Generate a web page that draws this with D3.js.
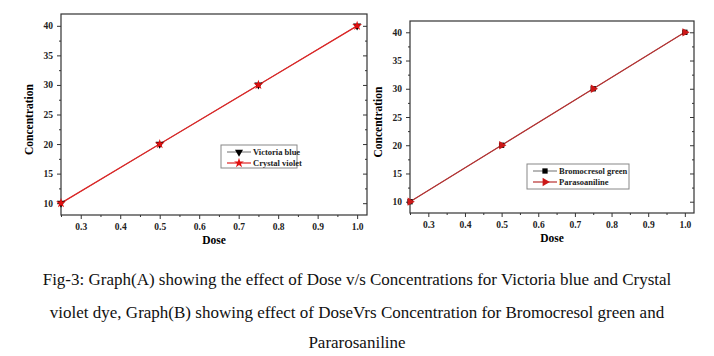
<!DOCTYPE html>
<html><head><meta charset="utf-8">
<script src="https://cdn.jsdelivr.net/npm/d3@7/dist/d3.min.js"></script>
<style>body{margin:0;background:#fff}svg{display:block}</style>
</head><body>
<svg id="c" width="714" height="356"></svg>
<script>
const dose = [0.25, 0.5, 0.75, 1.0];
const victoriaBlue = [10, 20, 30, 40];
const crystalViolet = [10, 20, 30, 40];
const bromocresolGreen = [10, 20, 30, 40];
const pararosaniline = [10, 20, 30, 40];
const xTicks = [0.3, 0.4, 0.5, 0.6, 0.7, 0.8, 0.9, 1.0];
const yTicks = [10, 15, 20, 25, 30, 35, 40];
const captionLines = [
  "Fig-3: Graph(A) showing the effect of Dose v/s Concentrations for Victoria blue and Crystal",
  "violet dye, Graph(B) showing effect of DoseVrs Concentration for Bromocresol green and",
  "Pararosaniline"
];

const svg = d3.select("#c");
const serif = "'Liberation Serif','Times New Roman',serif";

function panel(cfg) {
  const x = d3.scaleLinear().domain([0.25, 1.025]).range([cfg.left, cfg.right]);
  const y = d3.scaleLinear().domain([8, 42]).range([cfg.bottom, cfg.top]);
  const g = svg.append("g");
  // frame
  g.append("rect").attr("x", cfg.left).attr("y", cfg.top)
    .attr("width", cfg.right - cfg.left).attr("height", cfg.bottom - cfg.top)
    .attr("fill", "none").attr("stroke", "#333").attr("stroke-width", 1.2);
  const minorX = d3.range(0.25, 1.03, 0.05).map(v => +v.toFixed(2)).filter(v => !xTicks.some(t => Math.abs(t - v) < 1e-6));
  const minorY = d3.range(7.5, 42, 2.5).filter(v => v >= 8 && !yTicks.includes(v));
  // bottom axis
  const bx = g.append("g").attr("transform", `translate(0,${cfg.bottom})`)
    .call(d3.axisBottom(x).tickValues(xTicks).tickFormat(d3.format(".1f")).tickSize(4).tickPadding(4));
  bx.select(".domain").remove();
  g.append("g").attr("transform", `translate(0,${cfg.bottom})`)
    .call(d3.axisBottom(x).tickValues(minorX).tickFormat("").tickSize(2))
    .select(".domain").remove();
  // left axis
  const ly = g.append("g").attr("transform", `translate(${cfg.left},0)`)
    .call(d3.axisLeft(y).tickValues(yTicks).tickSize(4).tickPadding(4));
  ly.select(".domain").remove();
  g.append("g").attr("transform", `translate(${cfg.left},0)`)
    .call(d3.axisLeft(y).tickValues(minorY).tickFormat("").tickSize(2))
    .select(".domain").remove();
  // right mirrored ticks (inward)
  g.append("g").attr("transform", `translate(${cfg.right},0)`)
    .call(d3.axisLeft(y).tickValues(yTicks).tickFormat("").tickSize(4))
    .select(".domain").remove();
  g.append("g").attr("transform", `translate(${cfg.right},0)`)
    .call(d3.axisLeft(y).tickValues(minorY).tickFormat("").tickSize(2))
    .select(".domain").remove();
  g.selectAll(".tick line").attr("stroke", "#333");
  g.selectAll(".tick text").attr("font-family", serif).attr("font-weight", "bold")
    .attr("font-size", "9.5px").attr("fill", "#222");
  // axis titles
  g.append("text").attr("x", (cfg.left + cfg.right) / 2).attr("y", cfg.bottom + 29)
    .attr("text-anchor", "middle").attr("font-family", serif).attr("font-weight", "bold")
    .attr("font-size", "11.5px").text("Dose");
  g.append("text").attr("transform", `translate(${cfg.left - 28},${(cfg.top + cfg.bottom) / 2 + 5}) rotate(-90)`)
    .attr("text-anchor", "middle").attr("font-family", serif).attr("font-weight", "bold")
    .attr("font-size", "11.5px").text("Concentration");
  // series
  const line = d3.line().x(d => x(d[0])).y(d => y(d[1]));
  const s1 = dose.map((d, i) => [d, cfg.s1[i]]);
  const s2 = dose.map((d, i) => [d, cfg.s2[i]]);
  g.append("path").datum(s1).attr("d", line).attr("fill", "none").attr("stroke", "#888").attr("stroke-width", 1);
  g.append("path").datum(s2).attr("d", line).attr("fill", "none").attr("stroke", cfg.color).attr("stroke-width", 1.3);
  const sym1 = d3.symbol().type(cfg.sym1).size(28);
  const sym2 = d3.symbol().type(cfg.sym2).size(30);
  g.selectAll(".m1").data(s1).join("path").attr("d", sym1)
    .attr("transform", d => `translate(${x(d[0])},${y(d[1])})${cfg.rot1}`).attr("fill", "#000");
  g.selectAll(".m2").data(s2).join("path").attr("d", sym2)
    .attr("transform", d => `translate(${x(d[0])},${y(d[1])})${cfg.rot2}`).attr("fill", cfg.markColor);
  // legend
  const L = cfg.legend;
  const lg = g.append("g");
  lg.append("rect").attr("x", L.x).attr("y", L.y).attr("width", L.w).attr("height", L.h)
    .attr("fill", "#fff").attr("stroke", "#888").attr("stroke-width", 1);
  const items = [
    {name: cfg.n1, stroke: "#888", sym: sym1, rot: cfg.rot1, fill: "#000"},
    {name: cfg.n2, stroke: cfg.color, sym: sym2, rot: cfg.rot2, fill: cfg.markColor}
  ];
  items.forEach((it, i) => {
    const yy = L.y + 7 + i * 11;
    lg.append("line").attr("x1", L.x + 6).attr("x2", L.x + 30).attr("y1", yy).attr("y2", yy)
      .attr("stroke", it.stroke).attr("stroke-width", 1.2);
    lg.append("path").attr("d", it.sym).attr("transform", `translate(${L.x + 18},${yy})${it.rot}`).attr("fill", it.fill);
    lg.append("text").attr("x", L.x + 32).attr("y", yy + 3).attr("font-family", serif)
      .attr("font-weight", "bold").attr("font-size", "8.5px").attr("fill", "#222").text(it.name);
  });
}

panel({left: 61, right: 367, top: 14, bottom: 215,
  s1: victoriaBlue, s2: crystalViolet, color: "#e02424", markColor: "#e01010",
  sym1: d3.symbolTriangle, rot1: " rotate(180)", sym2: d3.symbolStar, rot2: "",
  n1: "Victoria blue", n2: "Crystal violet",
  legend: {x: 221, y: 145, w: 76, h: 23}});

panel({left: 410, right: 694, top: 21, bottom: 213,
  s1: bromocresolGreen, s2: pararosaniline, color: "#b83030", markColor: "#cc1818",
  sym1: d3.symbolSquare, rot1: "", sym2: d3.symbolTriangle, rot2: " rotate(90)",
  n1: "Bromocresol green", n2: "Parasoaniline",
  legend: {x: 527, y: 164, w: 102, h: 25}});

const cap = svg.append("g");
[279, 312, 342].forEach((yy, i) => {
  cap.append("text").attr("x", 357).attr("y", yy + 6).attr("text-anchor", "middle")
    .attr("font-family", serif).attr("font-size", "17px").attr("fill", "#111").text(captionLines[i]);
});
</script>
</body></html>
